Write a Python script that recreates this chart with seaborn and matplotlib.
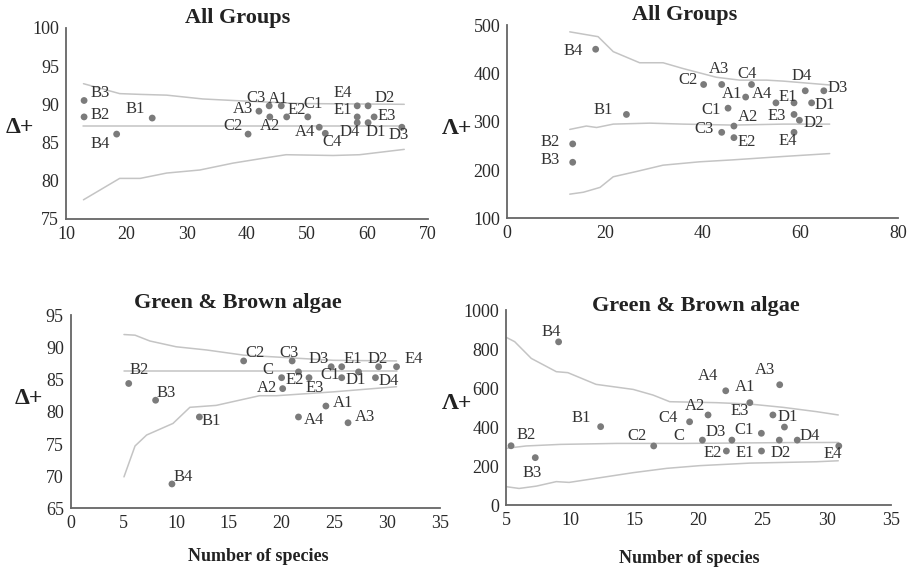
import matplotlib
matplotlib.use("Agg")
import matplotlib.pyplot as plt
import pandas as pd
import seaborn as sns

# --- data ---

# All Groups, Delta+
p1_labels = ["B3", "B2", "B4", "B1", "C2", "A3", "C3", "A1", "A2", "E2",
             "C1", "A4", "C4", "E4", "E1", "D4", "D2", "E3", "D1", "D3"]
p1_x = [13.0, 13.0, 18.4, 24.3, 40.2, 42.0, 43.7, 45.7, 43.8, 46.6,
        50.1, 52.0, 53.0, 58.3, 58.3, 58.3, 60.1, 61.1, 60.1, 65.7]
p1_y = [90.5, 88.35, 86.1, 88.2, 86.1, 89.1, 89.8, 89.8, 88.35, 88.35,
        88.35, 87.0, 86.2, 89.8, 88.35, 87.6, 89.8, 88.35, 87.6, 87.0]
p1_up_x = [12.9, 18.9, 22.3, 26.7, 32.7, 37.7, 48.7, 66.1]
p1_up_y = [92.7, 91.4, 91.3, 91.2, 90.7, 90.5, 90.1, 90.0]
p1_mid_x = [12.9, 66.1]
p1_mid_y = [87.2, 87.2]
p1_lo_x = [12.9, 18.9, 22.3, 26.7, 32.2, 37.7, 43.2, 46.5, 54.3, 58.7, 66.1]
p1_lo_y = [77.5, 80.3, 80.3, 81.0, 81.4, 82.3, 83.0, 83.4, 83.3, 83.4, 84.1]

# All Groups, Lambda+
p2_labels = ["B4", "C2", "A3", "C4", "D4", "D3", "A1", "A4", "E1", "D1",
             "C1", "B1", "E3", "D2", "A2", "C3", "E2", "E4", "B2", "B3"]
p2_x = [18.1, 40.2, 43.9, 50.0, 61.0, 64.8, 48.8, 55.0, 58.7, 62.3,
        45.2, 24.4, 58.7, 59.8, 46.4, 43.9, 46.4, 58.7, 13.4, 13.4]
p2_y = [450, 377, 377, 377, 364, 364, 351, 339, 339, 339,
        328, 315, 315, 303, 291, 278, 267, 278, 254, 216]
p2_up_x = [12.8, 18.6, 21.7, 27.1, 31.9, 36.0, 42.8, 47.6, 53.1, 56.5, 66.0]
p2_up_y = [486, 476, 445, 422, 422, 410, 392, 386, 386, 384, 376]
p2_mid_x = [12.8, 16.2, 18.3, 21.7, 29.2, 36.0, 46.2, 56.5, 66.0]
p2_mid_y = [284, 291, 288, 295, 297, 295, 293, 295, 295]
p2_lo_x = [12.8, 15.6, 19.0, 21.7, 26.5, 31.9, 39.4, 46.2, 56.5, 66.0]
p2_lo_y = [150, 154, 164, 186, 197, 210, 217, 221, 228, 234]

# Green & Brown algae, Delta+
p3_labels = ["B2", "B3", "B1", "B4", "C2", "C3", "C", "E2", "A2", "E3",
             "D3", "E1", "C1", "D1", "D2", "E4", "D4", "A1", "A4", "A3"]
p3_x = [5.5, 8.05, 12.2, 9.6, 16.4, 21.0, 21.6, 20.0, 20.1, 22.6,
        24.7, 25.7, 25.7, 27.3, 29.2, 30.9, 28.9, 24.2, 21.6, 26.3]
p3_y = [84.4, 81.8, 79.2, 68.8, 87.9, 87.9, 86.2, 85.3, 83.6, 85.3,
        87.0, 87.0, 85.3, 86.2, 87.0, 87.0, 85.3, 80.9, 79.2, 78.3]
p3_up_x = [5.05, 6.1, 7.5, 10.0, 12.9, 16.4, 21.7, 24.9, 30.9]
p3_up_y = [92.0, 91.9, 91.0, 90.1, 89.6, 88.8, 88.3, 88.0, 87.9]
p3_mid_x = [5.05, 30.9]
p3_mid_y = [86.4, 86.4]
p3_lo_x = [5.05, 6.1, 7.2, 9.7, 11.3, 13.8, 17.9, 19.5, 24.9, 30.9]
p3_lo_y = [69.9, 74.7, 76.4, 78.2, 80.7, 81.0, 82.5, 82.5, 83.1, 83.9]

# Green & Brown algae, Lambda+
p4_labels = ["B4", "B2", "B3", "B1", "C2", "C", "C4", "A2", "A4", "A1",
             "A3", "E3", "D1", "D3", "C1", "D2", "D4", "E4", "E2", "E1"]
p4_x = [9.08, 5.37, 7.26, 12.36, 16.5, 20.3, 19.3, 20.74, 22.12, 24.0,
        26.33, 26.7, 25.8, 22.6, 24.9, 26.3, 27.7, 30.94, 22.17, 24.91]
p4_y = [837, 304, 243, 402, 303, 333, 427, 462, 586, 525,
        617, 400, 462, 333, 368, 333, 333, 303, 277, 277]
p4_up_x = [5.0, 5.65, 6.95, 8.9, 9.8, 12.0, 14.9, 16.45, 17.75, 21.4, 24.0, 26.6, 29.2, 30.9]
p4_up_y = [860, 838, 752, 684, 679, 619, 593, 564, 530, 525, 518, 501, 479, 462]
p4_mid_x = [5.0, 6.55, 9.2, 13.6, 18.8, 26.6, 30.9]
p4_mid_y = [291, 303, 311, 316, 316, 320, 321]
p4_lo_x = [5.0, 6.0, 7.35, 8.9, 9.9, 12.3, 14.9, 17.5, 20.1, 24.0, 29.2, 30.9]
p4_lo_y = [94, 85, 97, 120, 116, 140, 166, 188, 202, 215, 222, 227]

# label placement (pixel offsets right / up from the point)
p1_off = [(16, 7), (16, 2), (-16, -10), (-17, 9), (-15, 8), (-16, 2), (-13, 8), (-3, 7),
          (0, -9), (10, 7), (5, 13), (-14, -5), (7, -9), (-14, 13), (-14, 7), (-8, -9),
          (17, 8), (13, 1), (8, -9), (-3, -8)]
p2_off = [(-22, -2), (-16, 4), (-3, 15), (-4, 10), (-4, 15), (14, 3), (-14, 3), (-14, 9),
          (-6, 6), (13, -2), (-17, -2), (-23, 4), (-17, -2), (14, -3), (14, 9), (-18, 3),
          (13, -4), (-6, -9), (-23, 2), (-23, 2)]
p3_off = [(10, 13), (11, 7), (12, -4), (11, 7), (11, 8), (-3, 8), (-31, 2), (13, -2),
          (-16, 1), (6, -10), (-13, 8), (11, 8), (-12, 3), (-3, -8), (-1, 8), (17, 8),
          (13, -3), (17, 3), (16, -3), (17, 6)]
p4_off = [(-7, 10), (15, 11), (-3, -15), (-19, 9), (-17, 10), (-24, 4), (-22, 4), (-13, 9),
          (-18, 15), (-5, 16), (-15, 15), (-45, 16), (15, -2), (-16, 8), (-17, 3), (1, -13),
          (12, 4), (-6, -8), (-14, -2), (-17, -2)]

sns.set_theme(style="white")
plt.rcParams["font.family"] = ["Liberation Serif", "DejaVu Serif"]

fig = plt.figure(figsize=(9.09, 5.70), dpi=100)

panels = [
    dict(rect=[0.0726, 0.616, 0.398, 0.335], labels=p1_labels, x=p1_x, y=p1_y, off=p1_off,
         lines=[(p1_up_x, p1_up_y), (p1_mid_x, p1_mid_y), (p1_lo_x, p1_lo_y)],
         xlim=(10, 70), xticks=range(10, 71, 10), ylim=(75, 100), yticks=range(75, 101, 5),
         title="All Groups", tpos=(0.474, 1.052), ylab="Δ+", ypos=(-0.127, 0.476), xlab=None),
    dict(rect=[0.558, 0.617, 0.430, 0.339], labels=p2_labels, x=p2_x, y=p2_y, off=p2_off,
         lines=[(p2_up_x, p2_up_y), (p2_mid_x, p2_mid_y), (p2_lo_x, p2_lo_y)],
         xlim=(0, 80), xticks=range(0, 81, 20), ylim=(100, 500), yticks=range(100, 501, 100),
         title="All Groups", tpos=(0.454, 1.052), ylab="Λ+", ypos=(-0.128, 0.467), xlab=None),
    dict(rect=[0.0778, 0.108, 0.406, 0.339], labels=p3_labels, x=p3_x, y=p3_y, off=p3_off,
         lines=[(p3_up_x, p3_up_y), (p3_mid_x, p3_mid_y), (p3_lo_x, p3_lo_y)],
         xlim=(0, 35), xticks=range(0, 36, 5), ylim=(65, 95), yticks=range(65, 96, 5),
         title="Green & Brown algae", tpos=(0.453, 1.062), ylab="Δ+", ypos=(-0.113, 0.569),
         xlab=(0.507, -0.25)),
    dict(rect=[0.557, 0.114, 0.423, 0.342], labels=p4_labels, x=p4_x, y=p4_y, off=p4_off,
         lines=[(p4_up_x, p4_up_y), (p4_mid_x, p4_mid_y), (p4_lo_x, p4_lo_y)],
         xlim=(5, 35), xticks=range(5, 36, 5), ylim=(0, 1000), yticks=range(0, 1001, 200),
         title="Green & Brown algae", tpos=(0.492, 1.021), ylab="Λ+", ypos=(-0.129, 0.523),
         xlab=(0.477, -0.273)),
]

px2pt = 72 / 100

for p in panels:
    ax = fig.add_axes(p["rect"])
    for lx, ly in p["lines"]:
        sns.lineplot(x=lx, y=ly, ax=ax, sort=False, estimator=None,
                     color="#c4c4c4", linewidth=1.1)
    df = pd.DataFrame({"station": p["labels"], "n": p["x"], "v": p["y"]})
    sns.scatterplot(data=df, x="n", y="v", ax=ax, color="#7b7b7b", s=24,
                    edgecolor="none", zorder=3)
    for lab, xx, yy, (dx, dy) in zip(df["station"], df["n"], df["v"], p["off"]):
        ax.annotate(lab, (xx, yy), xytext=(dx * px2pt, dy * px2pt),
                    textcoords="offset points", ha="center", va="center",
                    fontsize=12, color="#333333")

    ax.set_xlim(*p["xlim"])
    ax.set_ylim(*p["ylim"])
    ax.set_xticks(list(p["xticks"]))
    ax.set_yticks(list(p["yticks"]))
    sns.despine(ax=ax)
    for s in ["left", "bottom"]:
        ax.spines[s].set_color("#666666")
        ax.spines[s].set_linewidth(1.3)
    ax.tick_params(direction="inout", length=7, width=1.1, color="#666666",
                   labelsize=13, labelcolor="#2a2a2a", pad=1.5)

    ax.set_xlabel("")
    ax.set_ylabel(p["ylab"], rotation=0, fontsize=17, fontweight="bold", color="#222222",
                  ha="center", va="center")
    ax.yaxis.set_label_coords(*p["ypos"])
    ax.text(p["tpos"][0], p["tpos"][1], p["title"], transform=ax.transAxes,
            ha="center", va="center", fontsize=16, fontweight="bold", color="#222222")
    if p["xlab"] is not None:
        ax.text(p["xlab"][0], p["xlab"][1], "Number of species", transform=ax.transAxes,
                ha="center", va="center", fontsize=13, fontweight="bold", color="#222222")

fig.savefig("out.png", dpi=100)
